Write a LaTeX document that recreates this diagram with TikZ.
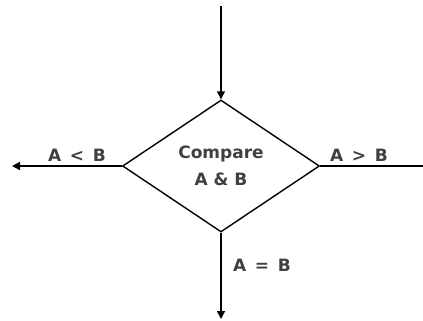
\documentclass[tikz,border=0pt]{standalone}
\usepackage{fontspec}
\setmainfont{DejaVu Sans}
\usetikzlibrary{positioning,arrows.meta,shapes.geometric}

\begin{document}
\begin{tikzpicture}[
  x=1pt, y=-1pt,
  font=\bfseries\fontsize{17}{27}\selectfont,
  decision/.style={diamond, draw=black, line width=1.4pt, minimum width=197pt, minimum height=132pt, inner sep=0pt, align=center, text=black!75},
  flow/.style={-{Triangle[length=8pt, width=8pt]}, line width=1.4pt},
  lbl/.style={text=black!75, inner sep=0pt}
]
\useasboundingbox (0,0) rectangle (423,321);
% ---------- decision ----------
\node[decision] (cmp) at (221,166) {Compare\\A \& B};
% ---------- free ends ----------
\coordinate (in) at (221,6);
\coordinate (lt) at (12,166);
\coordinate (gt) at (423,166);
\coordinate (eq) at (221,319);
% ---------- connectors ----------
\draw[flow] (in) -- (cmp.north);
\draw[flow] (cmp.west) -- (lt);
\draw[line width=1.4pt] (cmp.east) -- (gt);
\draw[flow] (cmp.south) -- (eq);
% ---------- branch labels ----------
\node[lbl] (ltlab) at (77,155) {A \,<\, B};
\node[lbl] (gtlab) at (359,155) {A \,>\, B};
\node[lbl] (eqlab) at (262,265) {A \,=\, B};
\end{tikzpicture}
\end{document}
